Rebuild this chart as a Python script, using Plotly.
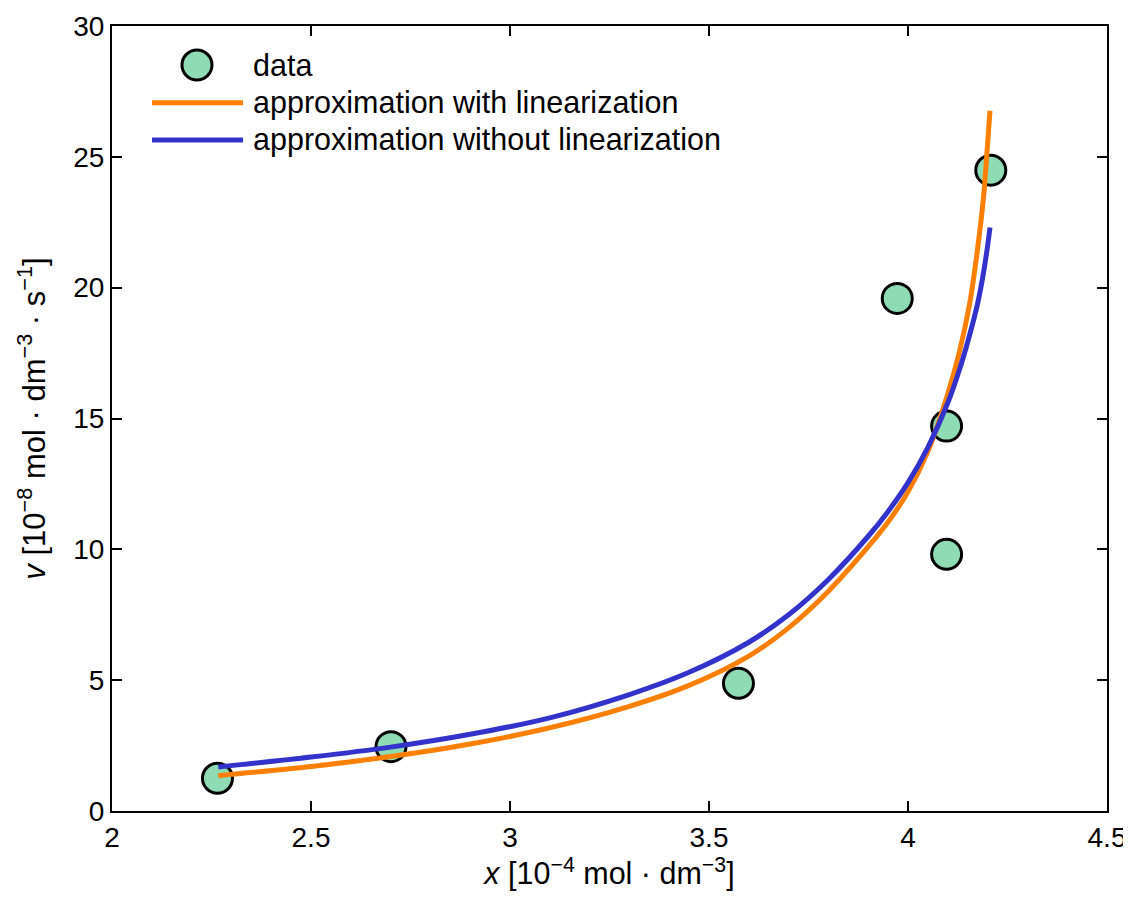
import plotly.graph_objects as go

# ---- data ----
data_x = [2.265, 2.701, 3.574, 3.973, 4.097, 4.097, 4.208]
data_v = [1.25, 2.46, 4.88, 19.59, 14.71, 9.81, 24.49]

lin_x = [2.267, 2.5, 2.7, 2.9, 3.1, 3.3, 3.45, 3.6, 3.7, 3.8, 3.9, 3.955,
         4.0, 4.05, 4.1, 4.13, 4.155, 4.175, 4.19, 4.2, 4.206]
lin_v = [1.35, 1.70, 2.08, 2.56, 3.18, 4.0, 4.8, 5.92, 7.0, 8.4, 10.1, 11.15,
         12.2, 13.75, 15.95, 17.6, 19.4, 21.5, 23.5, 25.5, 26.76]

nolin_x = [2.267, 2.5, 2.7, 2.9, 3.1, 3.3, 3.45, 3.6, 3.7, 3.8, 3.9, 3.95,
           4.0, 4.05, 4.1, 4.13, 4.155, 4.175, 4.19, 4.2, 4.206]
nolin_v = [1.68, 2.06, 2.44, 2.93, 3.56, 4.45, 5.3, 6.45, 7.5, 8.85, 10.5, 11.45,
           12.55, 13.9, 15.6, 16.9, 18.2, 19.4, 20.6, 21.6, 22.3]

legend_labels = ["data", "approximation with linearization",
                 "approximation without linearization"]

x_ticks = [2, 2.5, 3, 3.5, 4, 4.5]
x_tick_text = ["2", "2.5", "3", "3.5", "4", "4.5"]
y_ticks = [0, 5, 10, 15, 20, 25, 30]

# ---- styles ----
FONT = "Liberation Sans, Arial, Helvetica, sans-serif"
GREEN = "#8FDBB4"
ORANGE = "#FF8000"
BLUE = "#3333CC"

fig = go.Figure()
fig.add_trace(go.Scatter(
    x=data_x, y=data_v, mode="markers", name=legend_labels[0],
    marker=dict(size=30, color=GREEN, line=dict(color="black", width=3)),
    showlegend=False))
fig.add_trace(go.Scatter(
    x=lin_x, y=lin_v, mode="lines", name=legend_labels[1],
    line=dict(color=ORANGE, width=5, shape="spline", smoothing=0.9),
    showlegend=False))
fig.add_trace(go.Scatter(
    x=nolin_x, y=nolin_v, mode="lines", name=legend_labels[2],
    line=dict(color=BLUE, width=5, shape="spline", smoothing=0.9),
    showlegend=False))

# ---- manual legend (MATLAB style) ----
shapes = [
    dict(type="circle", xref="paper", yref="paper", xsizemode="pixel",
         ysizemode="pixel", xanchor=0.0854, yanchor=0.9503,
         x0=-15, x1=15, y0=-15, y1=15,
         fillcolor=GREEN, line=dict(color="black", width=3)),
    dict(type="line", xref="paper", yref="paper", x0=0.0402, x1=0.1317,
         y0=0.9023, y1=0.9023, line=dict(color=ORANGE, width=5)),
    dict(type="line", xref="paper", yref="paper", x0=0.0402, x1=0.1317,
         y0=0.8548, y1=0.8548, line=dict(color=BLUE, width=5)),
]
annotations = []
for lbl, yy in zip(legend_labels, [0.9503, 0.9023, 0.8548]):
    annotations.append(dict(text=lbl, xref="paper", yref="paper", x=0.1397,
                            y=yy, xanchor="left", yanchor="middle",
                            showarrow=False,
                            font=dict(family=FONT, size=30.5, color="black")))

axis_common = dict(
    showgrid=False, zeroline=False, showline=True, linecolor="black",
    linewidth=2, mirror="ticks", ticks="inside", ticklen=10, tickwidth=1.5,
    tickcolor="black", tickfont=dict(family=FONT, size=28, color="black"),
)

# the page adds an 8px body margin, so the figure is sized to compensate
fig.update_layout(
    width=1123, height=894,
    margin=dict(l=104, r=24, t=18, b=91, autoexpand=False),
    paper_bgcolor="white", plot_bgcolor="white",
    font=dict(family=FONT, color="black"),
    shapes=shapes, annotations=annotations,
    xaxis=dict(range=[2, 4.5], tickvals=x_ticks, ticktext=x_tick_text,
               title=dict(text="<i>x</i> [10<sup>−4</sup> mol · dm<sup>−3</sup>]",
                          font=dict(family=FONT, size=30.5), standoff=0),
               **axis_common),
    yaxis=dict(range=[0, 30], tickvals=y_ticks,
               title=dict(text="<i>v</i> [10<sup>−8</sup> mol · dm<sup>−3</sup> · s<sup>−1</sup>]",
                          font=dict(family=FONT, size=31), standoff=18),
               **axis_common),
)

fig.write_html("out.html")
